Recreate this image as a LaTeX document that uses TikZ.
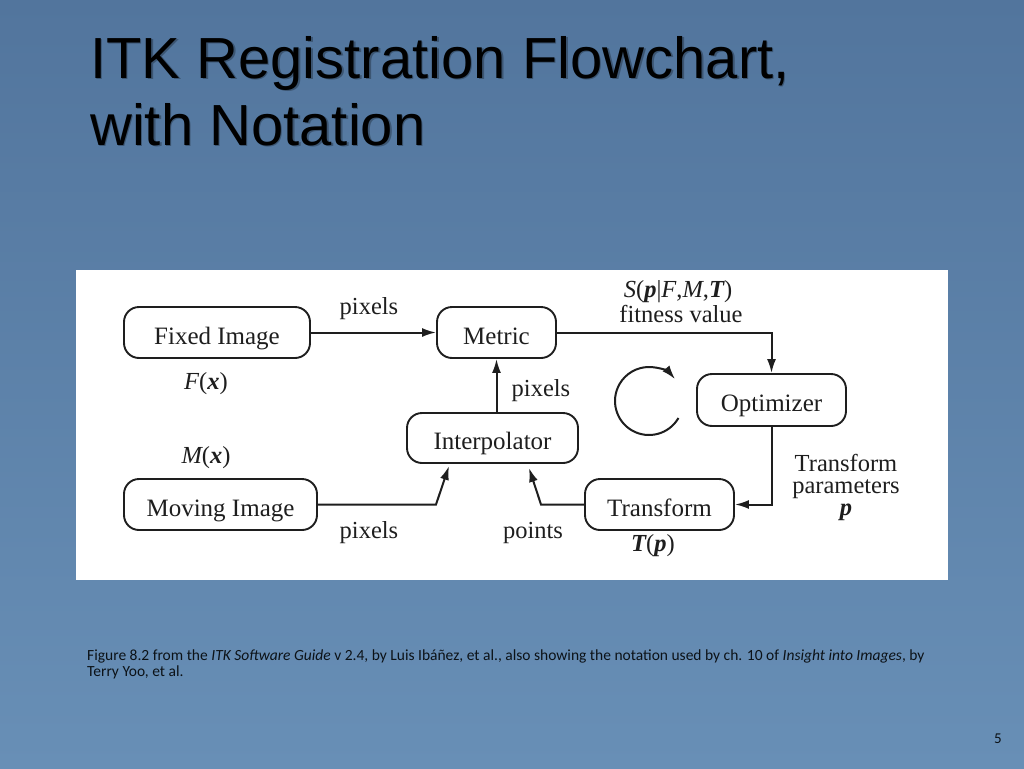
\documentclass[tikz,border=0pt]{standalone}
\usepackage{fontspec}
\setmainfont{Liberation Serif}
\newfontfamily\titlefont{Liberation Sans}
\newfontfamily\capfont{Carlito}
\usetikzlibrary{arrows.meta}
\definecolor{bgtop}{RGB}{82,117,157}
\definecolor{bgbot}{RGB}{104,143,182}
\definecolor{ink}{RGB}{30,30,30}
\newcommand{\bv}[1]{{\bfseries\itshape #1}}
\tikzset{
  box/.style={draw=ink, line width=1.9pt, rounded corners=15pt, inner sep=0pt, minimum height=51pt, text=ink, text height=23pt, text depth=0pt, font=\fontsize{25}{27}\selectfont},
  lab/.style={anchor=base, inner sep=0pt, text=ink, font=\fontsize{24.5}{26}\selectfont},
  conn/.style={draw=ink, line width=2pt, -{Latex[length=14pt,width=9pt]}},
  ttl/.style={anchor=base west, inner sep=0pt, font=\titlefont\fontsize{58}{67}\selectfont}
}
\begin{document}
\begin{tikzpicture}[x=1pt,y=-1pt]
\useasboundingbox (0,0) rectangle (1024,768);
\shade[top color=bgtop, bottom color=bgbot] (0,0) rectangle (1024,768);
% title
\node[ttl, text=black!80!bgtop, opacity=0.35] (t1s) at (91.5,79.5) {ITK Registration Flowchart,};
\node[ttl, text=black!80!bgtop, opacity=0.35] (t2s) at (91.5,146.5) {with Notation};
\node[ttl, text=black] (t1) at (90,78) {ITK Registration Flowchart,};
\node[ttl, text=black] (t2) at (90,145) {with Notation};
% panel
\fill[white] (76,270) rectangle (948,580);
% boxes
\node[box, minimum width=186pt] (fixed) at (217,332.5) {Fixed Image};
\node[box, minimum width=119pt] (metric) at (496.5,332.5) {Metric};
\node[box, minimum width=149pt, minimum height=52pt] (opt) at (771.5,400) {Optimizer};
\node[box, minimum width=171pt, minimum height=50pt] (interp) at (492.5,438) {Interpolator};
\node[box, minimum width=193pt] (moving) at (220.5,504.5) {Moving Image};
\node[box, minimum width=149pt] (trans) at (659.5,504.5) {Transform};
% connectors
\draw[conn] (fixed.east) -- (metric.west);
\draw[conn] (metric.east) -| (opt.north);
\draw[conn] (interp.north -| metric.south) -- (metric.south);
\draw[conn] (opt.south) |- (trans.east);
\coordinate (mk) at (436,504.5);
\coordinate (tk) at (541,504.5);
\draw[conn] (moving.east) -- (mk) -- ([xshift=-43.5pt,yshift=-2pt]interp.south);
\draw[conn] (trans.west) -- (tk) -- ([xshift=36.5pt,yshift=-4pt]interp.south);
% cycle arrow
\coordinate (cc) at (649,401);
\draw[conn] ([shift={(-30:34pt)}]cc) arc[start angle=-30, end angle=-320, radius=34pt];
% labels
\node[lab] (l1) at (369,314) {pixels};
\node[lab] (l2) at (678,297) {\itshape S\upshape(\bv{p}|\itshape F\upshape,\itshape M\upshape,\bv{T}\upshape)};
\node[lab] (l3) at (681,322) {fitness value};
\node[lab] (l4) at (206,389) {\itshape F\upshape(\bv{x})};
\node[lab] (l5) at (206,463) {\itshape M\upshape(\bv{x})};
\node[lab] (l6) at (541,396) {pixels};
\node[lab] (l7) at (369,538) {pixels};
\node[lab] (l8) at (533,538) {points};
\node[lab] (l9) at (653,551) {\bv{T}(\bv{p})};
\node[inner sep=0pt, text=ink, align=center, font=\fontsize{24.5}{22}\selectfont] (l10) at (846,487) {Transform\\parameters\\\bv{p}};
% caption
\node[anchor=base west, inner sep=0pt, align=left, text=black!85!bgtop, font=\capfont\fontsize{15.5}{16}\selectfont] (cap) at (87,676)
 {Figure 8.2 from the \textit{ITK Software Guide} v 2.4, by Luis Ibáñez, et al., also showing the notation used by ch. 10 of \textit{Insight into Images}, by\\Terry Yoo, et al.};
\node[anchor=base, inner sep=0pt, text=black!85!bgtop, font=\capfont\fontsize{15}{15}\selectfont] (pg) at (998,743) {5};
\end{tikzpicture}
\end{document}
